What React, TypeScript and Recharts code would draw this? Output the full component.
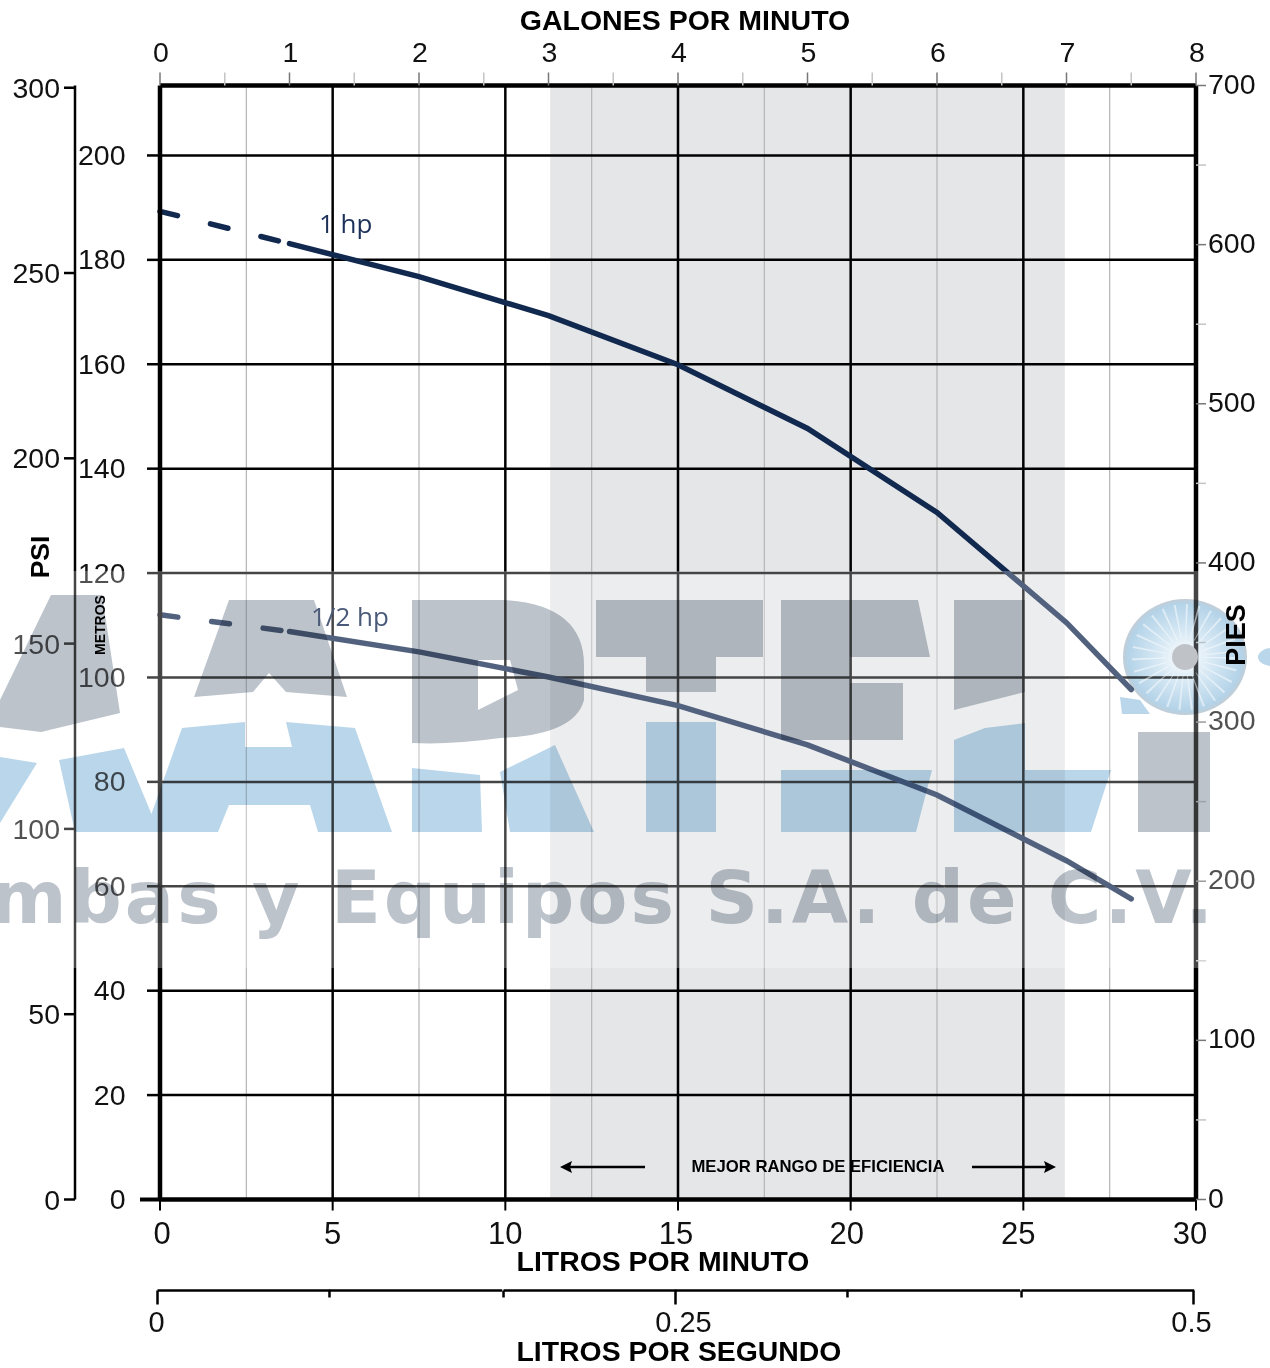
import type { ReactElement } from "react";
import { ComposedChart, Line, ReferenceArea, ReferenceLine, XAxis, YAxis } from "recharts";

const WIDTH = 1270;
const HEIGHT = 1368;
const SANS = "'Liberation Sans', Arial, sans-serif";
const NARROW = "'Liberation Sans Narrow', 'Liberation Sans', sans-serif";
const NAVY = "#12294f";

const lpmTicks = [0, 5, 10, 15, 20, 25, 30];
const lpmLabelShift = [2, 0, 0, -2, -4, -5, -6];
const lpmMinor = [2.5, 7.5, 12.5, 17.5, 22.5, 27.5];
const lpsTicks = [0, 0.083, 0.167, 0.25, 0.333, 0.417, 0.5];
const lpsLabels = ["0", "", "", "0.25", "", "", "0.5"];
const gpmTicks = [0, 0.5, 1, 1.5, 2, 2.5, 3, 3.5, 4, 4.5, 5, 5.5, 6, 6.5, 7, 7.5, 8];
const meterTicks = [0, 20, 40, 60, 80, 100, 120, 140, 160, 180, 200];
const psiTicks = [0, 50, 100, 150, 200, 250, 300];
const feetTicks = [0, 50, 100, 150, 200, 250, 300, 350, 400, 450, 500, 550, 600, 650, 700];
const efficiencyRange = [11.3, 26.2];

const oneHpDashed = [
  { gpm: 0, head: 189.3 },
  { gpm: 1, head: 183.1 },
];
const oneHpSolid = [
  { gpm: 1, head: 183.1 },
  { gpm: 2, head: 176.8 },
  { gpm: 3, head: 169.3 },
  { gpm: 4, head: 159.9 },
  { gpm: 5, head: 147.7 },
  { gpm: 6, head: 131.6 },
  { gpm: 7, head: 110.5 },
  { gpm: 7.5, head: 97.7 },
];
const halfHpDashed = [
  { gpm: 0, head: 112.0 },
  { gpm: 1, head: 108.8 },
];
const halfHpSolid = [
  { gpm: 1, head: 108.8 },
  { gpm: 2, head: 104.9 },
  { gpm: 3, head: 100.1 },
  { gpm: 4, head: 94.6 },
  { gpm: 5, head: 87.1 },
  { gpm: 6, head: 77.5 },
  { gpm: 7, head: 64.9 },
  { gpm: 7.5, head: 57.6 },
];

// the scales with no curve of their own still need a series before they draw
const lpmPsiRange = [
  { lpm: 0, psi: 0 },
  { lpm: 30, psi: 300 },
];
const lpsFeetRange = [
  { lps: 0, ft: 0 },
  { lps: 0.5, ft: 700 },
];

const grayLetters = [
  "51,595 102,595 120,713 41,732 0,727 0,700",
  "229,600 314,600 347,697 286,692 269,673 253,692 194,697",
  "596,600 763,600 763,657 716,657 716,692 646,692 646,657 596,657",
  "781,600 918,600 930,657 850,657 850,683 903,683 903,740 781,740",
  "954,600 1025,600 1025,692 954,710",
  "1138,732 1210,732 1210,832 1138,832",
];
const blueLetters = [
  "0,757 37,763 0,823",
  "59,760 124,748 159,832 75,832",
  "182,728 245,722 245,747 292,747 286,722 355,728 392,832 318,832 310,805 229,805 218,832 145,832",
  "412,768 480,775 482,832 412,832",
  "500,772 555,745 594,832 510,832",
  "646,722 716,722 716,832 646,832",
  "781,770 932,770 916,832 781,832",
  "954,740 985,728 1025,723 1025,770 1111,770 1091,832 954,832",
];

function MeterTick({ x, y, payload }: any): ReactElement {
  const start = payload.value === 0 ? x - 20 : x - 13;
  return (
    <g>
      <line x1={start} x2={x} y1={y} y2={y} stroke="#000" strokeWidth={payload.value === 0 ? 4 : 2.5} />
      <text x={x - 34.5} y={y + 9.5} textAnchor="end" fontFamily={SANS} fontSize={28.5} fill="#111">
        {payload.value}
      </text>
    </g>
  );
}

function PsiTick({ x, y, payload }: any): ReactElement {
  return (
    <g>
      <line x1={x - 11} x2={x} y1={y} y2={y} stroke="#000" strokeWidth={2.5} />
      <text x={x - 15} y={y + 10} textAnchor="end" fontFamily={SANS} fontSize={28.5} fill="#111">
        {payload.value}
      </text>
    </g>
  );
}

function FeetTick({ x, y, payload }: any): ReactElement {
  const major = payload.value % 100 === 0;
  return (
    <g>
      <line x1={x} x2={x + 10} y1={y} y2={y} stroke={major ? "#777" : "#c4c4c4"} strokeWidth={1.5} />
      {major && (
        <text x={x + 12} y={y + 8} fontFamily={SANS} fontSize={28.5} fill="#111">
          {payload.value}
        </text>
      )}
    </g>
  );
}

function GpmTick({ x, y, payload }: any): ReactElement {
  const major = Number.isInteger(payload.value);
  return (
    <g>
      <line x1={x} x2={x} y1={y} y2={y - 13} stroke={major ? "#777" : "#c4c4c4"} strokeWidth={1.5} />
      {major && (
        <text x={x + 1} y={y - 23.5} textAnchor="middle" fontFamily={SANS} fontSize={28.5} fill="#111">
          {payload.value}
        </text>
      )}
    </g>
  );
}

function LpmTick({ x, y, payload, index }: any): ReactElement {
  return (
    <g>
      <line x1={x} x2={x} y1={y} y2={y + 11} stroke="#000" strokeWidth={2} />
      <text x={x + lpmLabelShift[index]} y={y + 44} textAnchor="middle" fontFamily={NARROW} fontSize={31} fill="#111">
        {payload.value}
      </text>
    </g>
  );
}

// the litres-per-second ruler sits a little left of the plot, so ticks draw their own segment
function LpsTick({ x, y, index }: any): ReactElement {
  const label = lpsLabels[index];
  const px = x - 2.5;
  const labelShift = index === 3 ? 8 : index === 6 ? -2 : -1;
  return (
    <g>
      {index < 6 && <line x1={px} x2={px + 172.7} y1={y} y2={y} stroke="#000" strokeWidth={2.5} />}
      <line x1={px} x2={px} y1={y} y2={y + (label ? 14 : 7)} stroke="#000" strokeWidth={2.5} />
      <text x={px + labelShift} y={y + 41} textAnchor="middle" fontFamily={SANS} fontSize={29} fill="#111">
        {label}
      </text>
    </g>
  );
}

function Title({ x, y, size, children, rotate }: { x: number; y: number; size: number; children: string; rotate?: boolean }): ReactElement {
  return (
    <text
      x={x}
      y={y}
      textAnchor="middle"
      dominantBaseline="central"
      fontFamily={SANS}
      fontWeight={700}
      fontSize={size}
      fill="#000"
      transform={rotate ? `rotate(-90 ${x} ${y})` : undefined}
    >
      {children}
    </text>
  );
}

function Overlay(): ReactElement {
  return (
    <svg width={WIDTH} height={HEIGHT} style={{ position: "absolute", left: 0, top: 0, pointerEvents: "none" }}>
      <defs>
        <radialGradient id="impeller">
          <stop offset="0%" stopColor="#ffffff" />
          <stop offset="45%" stopColor="#d6e8f4" />
          <stop offset="92%" stopColor="#b4d3e8" />
          <stop offset="100%" stopColor="#c2cdd6" />
        </radialGradient>
      </defs>
      <rect x={0} y={571} width={WIDTH} height={397} fill="#fff" fillOpacity={0.27} />
      <g style={{ mixBlendMode: "multiply" }}>
        {grayLetters.map((points) => (
          <polygon key={points} points={points} fill="#bcc3cb" />
        ))}
        <path
          d="M412 600 H505 Q584 605 584 665 V700 Q575 735 500 738 Q450 745 412 743 Z M478 660 V710 L518 690 L510 660 Z"
          fill="#bcc3cb"
          fillRule="evenodd"
        />
        {blueLetters.map((points) => (
          <polygon key={points} points={points} fill="#bad6ea" />
        ))}
        <polygon points="1120,697 1140,700 1150,714 1122,714" fill="#bad6ea" />
        <ellipse cx={1185} cy={657} rx={62} ry={58} fill="url(#impeller)" />
        <ellipse cx={1272} cy={657} rx={14} ry={9} fill="#bad6ea" />
        <text
          x={1216}
          y={923}
          textAnchor="end"
          fontFamily="'DejaVu Sans', sans-serif"
          fontWeight={700}
          fontSize={73}
          letterSpacing={3}
          fill="#bcc3cb"
        >
          mbas y Equipos S.A. de C.V.
        </text>
      </g>
      <circle cx={1185} cy={657} r={36} fill="none" stroke="#fff" strokeOpacity={0.5} strokeWidth={34} strokeDasharray="1.5 7" />
      <circle cx={1185} cy={657} r={13} fill="#bfc3c8" />

      <Title x={685} y={20} size={28.5}>GALONES POR MINUTO</Title>
      <Title x={663} y={1261} size={28.4}>LITROS POR MINUTO</Title>
      <Title x={679} y={1351} size={28.4}>LITROS POR SEGUNDO</Title>
      <Title x={40} y={557} size={26.5} rotate>PSI</Title>
      <Title x={100} y={625} size={14} rotate>METROS</Title>
      <Title x={1236} y={635} size={27} rotate>PIES</Title>
      <Title x={818} y={1166} size={16.7}>MEJOR RANGO DE EFICIENCIA</Title>

      <line x1={566} x2={645} y1={1167} y2={1167} stroke="#000" strokeWidth={2.5} />
      <polygon points="560,1167 572,1161 570,1167 572,1173" fill="#000" />
      <line x1={972} x2={1050} y1={1167} y2={1167} stroke="#000" strokeWidth={2.5} />
      <polygon points="1056,1167 1044,1161 1046,1167 1044,1173" fill="#000" />

      <text x={319} y={233} fontFamily="'Open Sans', sans-serif" fontSize={26} fill="#1c3058">1 hp</text>
      <text x={311} y={626} fontFamily="'Open Sans', sans-serif" fontSize={26} fill="#4a5a78">1/2 hp</text>
    </svg>
  );
}

export default function App(): ReactElement {
  return (
    <div style={{ position: "absolute", left: 0, top: 0, width: WIDTH, height: HEIGHT, background: "#fff" }}>
      <ComposedChart
        width={WIDTH}
        height={HEIGHT}
        margin={{ top: 25.5, right: 0, bottom: 17.5, left: 15 }}
      >
        <XAxis xAxisId="gpm" orientation="top" type="number" dataKey="gpm" domain={[0, 8]} ticks={gpmTicks} interval={0} height={60} tick={GpmTick} tickLine={false} tickSize={0} tickMargin={0} axisLine={{ stroke: "#000", strokeWidth: 4.5 }} allowDecimals />
        <XAxis xAxisId="lpm" orientation="bottom" type="number" dataKey="lpm" domain={[0, 30]} ticks={lpmTicks} interval={0} height={91} tick={LpmTick} tickLine={false} tickSize={0} tickMargin={0} axisLine={{ stroke: "#000", strokeWidth: 4.5 }} />
        <XAxis xAxisId="lps" orientation="bottom" type="number" dataKey="lps" domain={[0, 0.5]} ticks={lpsTicks} interval={0} height={60} tick={LpsTick} tickLine={false} tickSize={0} tickMargin={0} axisLine={false} allowDecimals />
        <YAxis yAxisId="m" orientation="left" type="number" domain={[0, 213.4]} ticks={meterTicks} interval={0} width={85} tick={MeterTick} tickLine={false} tickSize={0} tickMargin={0} axisLine={{ stroke: "#000", strokeWidth: 4.5 }} />
        <YAxis yAxisId="psi" orientation="left" type="number" domain={[0, 300.6]} ticks={psiTicks} interval={0} width={60} tick={PsiTick} tickLine={false} tickSize={0} tickMargin={0} axisLine={{ stroke: "#000", strokeWidth: 2.5 }} />
        <YAxis yAxisId="ft" orientation="right" type="number" domain={[0, 700]} ticks={feetTicks} interval={0} width={74} tick={FeetTick} tickLine={false} tickSize={0} tickMargin={0} axisLine={{ stroke: "#000", strokeWidth: 4.5 }} />

        <ReferenceArea xAxisId="lpm" yAxisId="m" x1={efficiencyRange[0]} x2={efficiencyRange[1]} fill="#e5e6e8" fillOpacity={1} stroke="none" />
        {lpmMinor.map((v) => (
          <ReferenceLine key={v} xAxisId="lpm" yAxisId="m" x={v} stroke="#b4b4b4" strokeWidth={1.2} />
        ))}
        {lpmTicks.slice(1, -1).map((v) => (
          <ReferenceLine key={v} xAxisId="lpm" yAxisId="m" x={v} stroke="#000" strokeWidth={2.5} />
        ))}
        {meterTicks.slice(1).map((v) => (
          <ReferenceLine key={v} xAxisId="lpm" yAxisId="m" y={v} stroke="#000" strokeWidth={2.5} />
        ))}

        <Line xAxisId="lpm" yAxisId="psi" data={lpmPsiRange} dataKey="psi" stroke="none" dot={false} isAnimationActive={false} />
        <Line xAxisId="lps" yAxisId="ft" data={lpsFeetRange} dataKey="ft" stroke="none" dot={false} isAnimationActive={false} />
        <Line xAxisId="gpm" yAxisId="m" data={oneHpDashed} dataKey="head" stroke={NAVY} strokeWidth={5.5} strokeDasharray="18 34" strokeLinecap="round" dot={false} isAnimationActive={false} />
        <Line xAxisId="gpm" yAxisId="m" data={oneHpSolid} dataKey="head" stroke={NAVY} strokeWidth={5.5} strokeLinecap="round" dot={false} isAnimationActive={false} />
        <Line xAxisId="gpm" yAxisId="m" data={halfHpDashed} dataKey="head" stroke={NAVY} strokeWidth={5.5} strokeDasharray="18 34" strokeLinecap="round" dot={false} isAnimationActive={false} />
        <Line xAxisId="gpm" yAxisId="m" data={halfHpSolid} dataKey="head" stroke={NAVY} strokeWidth={5.5} strokeLinecap="round" dot={false} isAnimationActive={false} />
      </ComposedChart>
      <Overlay />
    </div>
  );
}
